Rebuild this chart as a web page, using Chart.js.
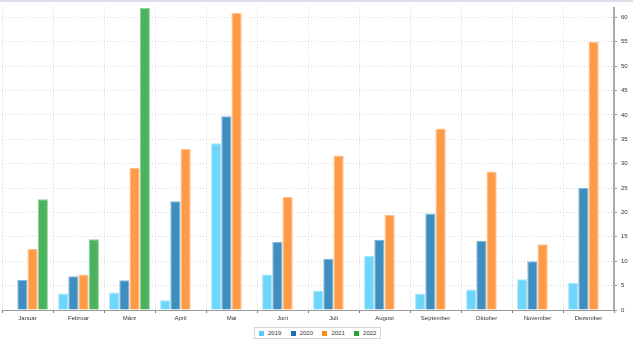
<!DOCTYPE html>
<html>
<head>
<meta charset="utf-8">
<script src="https://cdn.jsdelivr.net/npm/chart.js@4"></script>
<style>
  html, body { margin: 0; padding: 0; background: #fff; }
  #wrap { position: relative; width: 633px; height: 340px; }
  #topbar { position: absolute; left: 0; top: 0; width: 633px; height: 2px; background: #dde0ea; }
  #legend {
    position: absolute; left: 254px; top: 327px; width: 127px; height: 12px;
    border: 1px solid #d4d4d4; background: #fff;
    display: flex; align-items: center;
    box-sizing: border-box; padding: 0 0 0 4px;
    font-family: 'Liberation Sans', sans-serif; font-size: 6px; color: #333;
  }
  #legend .item { display: flex; align-items: center; width: 31.7px; flex: none; }
  #legend .swatch { width: 5px; height: 5px; margin-right: 4px; }
</style>
</head>
<body>
<div id="wrap">
  <canvas id="chart" width="633" height="340"></canvas>
  <div id="topbar"></div>
  <div id="legend"></div>
</div>
<script>
const months = ['Januar', 'Februar', 'März', 'April', 'Mai', 'Juni', 'Juli', 'August', 'September', 'Oktober', 'November', 'Dezember'];
const years = ['2019', '2020', '2021', '2022'];

const values2019 = [null, 3.4, 3.6, 2.0, 34.2, 7.3, 4.0, 11.1, 3.4, 4.2, 6.3, 5.6];
const values2020 = [6.2, 6.9, 6.1, 22.3, 39.7, 14.0, 10.5, 14.4, 19.8, 14.2, 10.0, 25.0];
const values2021 = [12.5, 7.3, 29.1, 33.0, 60.9, 23.2, 31.7, 19.5, 37.2, 28.4, 13.5, 55.0];
const values2022 = [22.7, 14.5, 61.9, null, null, null, null, null, null, null, null, null];

const barColors = ['#6fd6fb', '#3e8fc0', '#ff9a47', '#4bb35d'];
const edgeColors = ['#a9e6fc', '#7fb5d6', '#ffc28f', '#8fd19a'];
const legendColors = ['#5ac8fa', '#1a6fb0', '#ff8a1f', '#28a03a'];

const series = [values2019, values2020, values2021, values2022];

const ctx = document.getElementById('chart').getContext('2d');

const chart = new Chart(ctx, {
  type: 'bar',
  data: {
    labels: months,
    datasets: years.map((year, i) => ({
      label: year,
      data: series[i],
      backgroundColor: barColors[i],
      borderColor: edgeColors[i],
      borderWidth: 1,
      categoryPercentage: 0.8,
      barPercentage: 1.0,
    })),
  },
  options: {
    responsive: false,
    animation: false,
    layout: {
      padding: { left: 2, top: 3, right: 0, bottom: 16 },
    },
    plugins: {
      tooltip: { enabled: false },
      legend: { display: false },
    },
    scales: {
      x: {
        grid: {
          offset: true,
          color: '#d9d9d9',
          lineWidth: 1,
          tickLength: 3,
          tickColor: '#777',
          tickBorderDash: [],
        },
        border: { display: true, color: '#9a9a9a', width: 1, dash: [1, 2] },
        ticks: {
          color: '#333',
          padding: 2,
          maxRotation: 0,
          autoSkip: false,
          font: { family: 'Liberation Sans', size: 6 },
        },
        afterFit(scale) { scale.height = 14; },
      },
      y: {
        position: 'right',
        min: 0,
        max: 62,
        grid: {
          color: '#d9d9d9',
          lineWidth: 1,
          tickLength: 3,
          tickColor: '#999',
          tickBorderDash: [],
        },
        border: { display: true, color: '#aaaaaa', width: 2, dash: [1, 2] },
        ticks: {
          stepSize: 5,
          color: '#333',
          padding: 4,
          font: { family: 'Liberation Sans', size: 6 },
        },
        afterBuildTicks(scale) {
          scale.ticks = scale.ticks.filter(t => t.value % 5 === 0);
        },
        afterFit(scale) { scale.width = 19; },
      },
    },
  },
});

// legend below the x axis, built from the dataset labels
const legend = document.getElementById('legend');
chart.data.datasets.forEach((ds, i) => {
  const item = document.createElement('span');
  item.className = 'item';
  const swatch = document.createElement('span');
  swatch.className = 'swatch';
  swatch.style.background = legendColors[i];
  const label = document.createElement('span');
  label.textContent = ds.label;
  item.appendChild(swatch);
  item.appendChild(label);
  legend.appendChild(item);
});
</script>
</body>
</html>
